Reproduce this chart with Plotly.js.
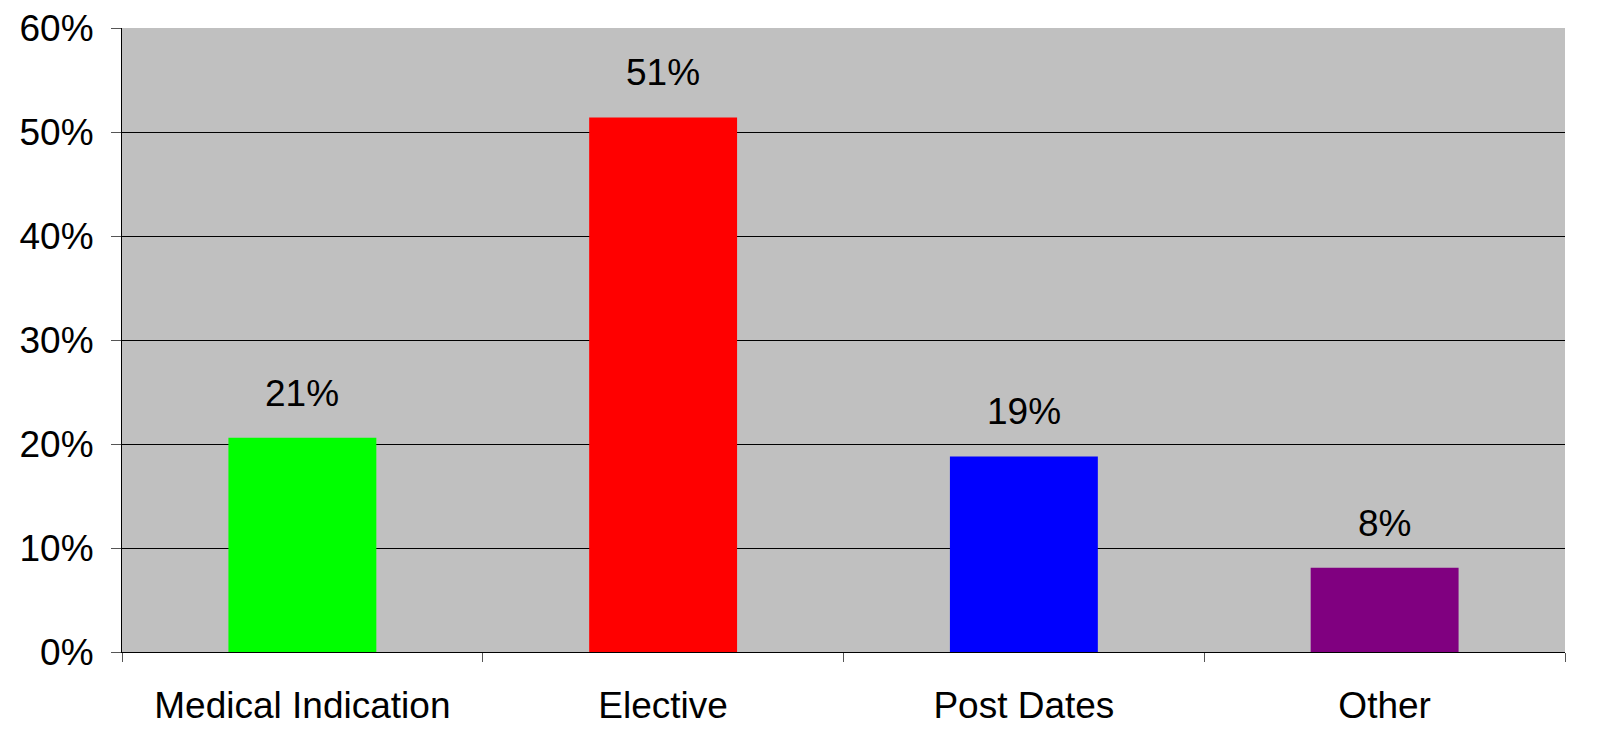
<!DOCTYPE html>
<html>
<head>
<meta charset="utf-8">
<script src="https://cdn.plot.ly/plotly-3.0.1.min.js"></script>
<style>html,body{margin:0;padding:0;background:#fff;}#chart{width:1606px;height:741px;}</style>
</head>
<body>
<div id="chart"></div>
<script>
const categories = ["Medical Indication", "Elective", "Post Dates", "Other"];
const values = [20.6, 51.4, 18.8, 8.1];
const labels = ["21%", "51%", "19%", "8%"];
const colors = ["#00FF00", "#FF0000", "#0000FF", "#800080"];
const yTicks = [0, 10, 20, 30, 40, 50, 60];
const yTickText = ["0%", "10%", "20%", "30%", "40%", "50%", "60%"];

const font = {family: "Liberation Sans, Arial, sans-serif", size: 37, color: "#000"};

const trace = {
  type: "bar",
  x: categories,
  y: values,
  marker: {color: colors, line: {width: 0}},
  width: 0.41,
  hoverinfo: "none"
};

const annotations = categories.map((c, i) => ({
  x: c, y: values[i], xref: "x", yref: "y",
  text: labels[i], showarrow: false,
  yanchor: "bottom", yshift: 22,
  font: font
}));

const layout = {
  width: 1606, height: 741,
  margin: {l: 122, r: 41, t: 28, b: 89},
  paper_bgcolor: "#fff",
  plot_bgcolor: "#C0C0C0",
  showlegend: false,
  font: font,
  xaxis: {
    type: "category",
    tickson: "boundaries",
    ticks: "outside", ticklen: 9, tickcolor: "#555", tickwidth: 1,
    showline: true, linecolor: "#000", linewidth: 1,
    showgrid: false,
    tickfont: font,
    ticklabelstandoff: 21
  },
  yaxis: {
    range: [0, 60],
    tickvals: yTicks, ticktext: yTickText,
    ticks: "outside", ticklen: 10, tickcolor: "#555", tickwidth: 1,
    showline: true, linecolor: "#000", linewidth: 1,
    showgrid: true, gridcolor: "#000", gridwidth: 1,
    zeroline: false,
    tickfont: font,
    ticklabelstandoff: 10
  },
  annotations: annotations
};

Plotly.newPlot("chart", [trace], layout, {staticPlot: true});
</script>
</body>
</html>
